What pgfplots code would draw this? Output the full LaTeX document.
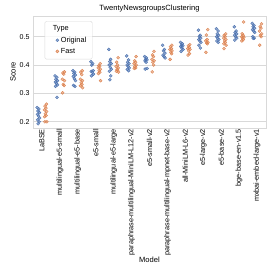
\documentclass[border=0pt]{standalone}
\usepackage{pgfplots}
\pgfplotsset{compat=1.18}
\usepackage{pgfplotstable}
\usepackage{fontspec}
\setmainfont{Liberation Sans}
\definecolor{sbblue}{HTML}{4C72B0}
\definecolor{sborange}{HTML}{DD8452}
\definecolor{gridgray}{HTML}{D9D9D9}

\pgfplotstableread{
x j y
0 -0.07 0.250
0 0.03 0.245
0 -0.02 0.238
0 0.06 0.232
0 -0.05 0.226
0 0.01 0.220
0 0.07 0.213
0 -0.04 0.207
0 0.04 0.200
0 -0.01 0.193
1 -0.07 0.362
1 0.03 0.357
1 -0.02 0.350
1 0.06 0.345
1 -0.05 0.340
1 0.01 0.335
1 0.07 0.330
1 -0.04 0.325
1 0.04 0.286
2 -0.07 0.380
2 0.03 0.375
2 -0.02 0.370
2 0.06 0.365
2 -0.05 0.360
2 0.01 0.352
2 0.07 0.345
2 -0.04 0.328
2 0.04 0.325
3 -0.07 0.412
3 0.03 0.405
3 -0.02 0.400
3 0.06 0.380
3 -0.05 0.378
3 0.01 0.375
3 0.07 0.368
3 -0.04 0.362
4 -0.07 0.455
4 0.03 0.420
4 -0.02 0.412
4 0.06 0.405
4 -0.05 0.400
4 0.01 0.392
4 0.07 0.385
4 -0.04 0.378
4 0.04 0.362
4 -0.01 0.348
5 -0.07 0.432
5 0.03 0.418
5 -0.02 0.410
5 0.06 0.405
5 -0.05 0.400
5 0.01 0.395
5 0.07 0.390
5 -0.04 0.385
5 0.04 0.380
6 -0.07 0.430
6 0.03 0.425
6 -0.02 0.420
6 0.06 0.418
6 -0.05 0.415
6 0.01 0.410
6 0.07 0.388
6 -0.04 0.386
7 -0.07 0.470
7 0.03 0.455
7 -0.02 0.450
7 0.06 0.442
7 -0.05 0.435
7 0.01 0.430
7 0.07 0.425
8 -0.07 0.480
8 0.03 0.475
8 -0.02 0.470
8 0.06 0.468
8 -0.05 0.465
8 0.01 0.460
8 0.07 0.455
8 -0.04 0.448
9 -0.07 0.523
9 0.03 0.505
9 -0.02 0.500
9 0.06 0.495
9 -0.05 0.490
9 0.01 0.485
9 0.07 0.480
9 -0.04 0.470
9 0.04 0.460
10 -0.07 0.528
10 0.03 0.520
10 -0.02 0.510
10 0.06 0.505
10 -0.05 0.500
10 0.01 0.495
10 0.07 0.490
10 -0.04 0.485
10 0.04 0.480
11 -0.07 0.535
11 0.03 0.520
11 -0.02 0.515
11 0.06 0.510
11 -0.05 0.505
11 0.01 0.500
11 0.07 0.495
11 -0.04 0.488
12 -0.07 0.547
12 0.03 0.540
12 -0.02 0.535
12 0.06 0.530
12 -0.05 0.525
12 0.01 0.520
12 0.07 0.515
12 -0.04 0.500
12 0.04 0.495
12 -0.01 0.494
}\original

\pgfplotstableread{
x j y
0 0.05 0.262
0 -0.03 0.255
0 0.02 0.248
0 -0.06 0.242
0 0.06 0.236
0 -0.01 0.228
0 0.03 0.222
0 -0.05 0.218
0 0.07 0.200
0 -0.04 0.200
1 0.05 0.376
1 -0.03 0.372
1 0.02 0.368
1 -0.06 0.350
1 0.06 0.345
1 -0.01 0.332
1 0.03 0.328
1 -0.05 0.302
2 0.05 0.380
2 -0.03 0.375
2 0.02 0.366
2 -0.06 0.350
2 0.06 0.345
2 -0.01 0.338
2 0.03 0.332
2 -0.05 0.327
2 0.07 0.320
3 0.05 0.405
3 -0.03 0.398
3 0.02 0.395
3 -0.06 0.390
3 0.06 0.385
3 -0.01 0.380
3 0.03 0.375
3 -0.05 0.370
3 0.07 0.345
4 0.05 0.426
4 -0.03 0.410
4 0.02 0.400
4 -0.06 0.395
4 0.06 0.390
4 -0.01 0.385
4 0.03 0.382
4 -0.05 0.378
4 0.07 0.375
5 0.05 0.430
5 -0.03 0.415
5 0.02 0.410
5 -0.06 0.405
5 0.06 0.400
5 -0.01 0.395
5 0.03 0.390
5 -0.05 0.388
6 0.05 0.448
6 -0.03 0.436
6 0.02 0.430
6 -0.06 0.420
6 0.06 0.415
6 -0.01 0.410
6 0.03 0.400
6 -0.05 0.376
7 0.05 0.470
7 -0.03 0.465
7 0.02 0.458
7 -0.06 0.455
7 0.06 0.450
7 -0.01 0.445
7 0.03 0.440
7 -0.05 0.420
8 0.05 0.472
8 -0.03 0.468
8 0.02 0.462
8 -0.06 0.458
8 0.06 0.455
8 -0.01 0.450
8 0.03 0.440
8 -0.05 0.435
9 0.05 0.525
9 -0.03 0.506
9 0.02 0.490
9 -0.06 0.485
9 0.06 0.480
9 -0.01 0.478
9 0.03 0.475
9 -0.05 0.445
10 0.05 0.510
10 -0.03 0.505
10 0.02 0.500
10 -0.06 0.495
10 0.06 0.490
10 -0.01 0.485
10 0.03 0.480
10 -0.05 0.475
10 0.07 0.470
10 -0.04 0.458
11 0.05 0.552
11 -0.03 0.510
11 0.02 0.505
11 -0.06 0.500
11 0.06 0.498
11 -0.01 0.495
11 0.03 0.490
11 -0.05 0.485
12 0.05 0.545
12 -0.03 0.535
12 0.02 0.530
12 -0.06 0.520
12 0.06 0.510
12 -0.01 0.505
12 0.03 0.500
12 -0.05 0.470
}\fast

\begin{document}
\begin{tikzpicture}
\useasboundingbox (-33bp,-146bp) rectangle (241bp,128bp);
\begin{axis}[
  at={(0,0)}, anchor=south west,
  scale only axis,
  width=233bp, height=112bp,
  xmin=-0.5, xmax=12.5,
  ymin=0.178, ymax=0.573,
  xtick={0,...,12},
  xticklabels={LaBSE,multilingual-e5-small,multilingual-e5-base,e5-small,multilingual-e5-large,paraphrase-multilingual-MiniLM-L12-v2,e5-small-v2,paraphrase-multilingual-mpnet-base-v2,all-MiniLM-L6-v2,e5-large-v2,e5-base-v2,bge-base-en-v1.5,mxbai-embed-large-v1},
  xticklabel style={rotate=90, anchor=east, font=\fontsize{7.3}{8.5}\selectfont, inner sep=1pt},
  ytick={0.2,0.3,0.4,0.5},
  yticklabel style={font=\fontsize{7.1}{8.5}\selectfont, /pgf/number format/fixed, /pgf/number format/precision=1, /pgf/number format/fixed zerofill},
  /pgf/number format/assume math mode=true,
  major tick length=0pt,
  axis line style={gridgray, line width=0.6pt},
  ymajorgrids, grid style={gridgray, line width=0.6pt},
  title={TwentyNewsgroupsClustering},
  title style={font=\fontsize{7.6}{9}\selectfont, yshift=-6bp},
  xlabel={Model}, ylabel={Score},
  xlabel style={font=\fontsize{7.6}{9}\selectfont, yshift=3bp},
  ylabel style={font=\fontsize{7.6}{9}\selectfont, yshift=-3bp},
  legend style={at={(0.05,0.955)}, anchor=north west, draw=gridgray, rounded corners=1.5pt,
    fill=white, fill opacity=0.8, text opacity=1, font=\fontsize{7.4}{9}\selectfont,
    row sep=0.5pt, inner xsep=4bp, inner ysep=2.5bp},
  legend cell align=left,
]
\addlegendimage{empty legend}
\addlegendentry{\hspace{-8bp}Type}
\addplot[only marks, mark=*, mark size=1.5bp, color=sbblue, mark options={draw=none, fill=sbblue, fill opacity=0.6}]
  table[x expr=\thisrow{x}-0.2+\thisrow{j}, y=y]{\original};
\addlegendentry{Original}
\addplot[only marks, mark=*, mark size=1.5bp, color=sborange, mark options={draw=none, fill=sborange, fill opacity=0.55}]
  table[x expr=\thisrow{x}+0.2+\thisrow{j}, y=y]{\fast};
\addlegendentry{Fast}
\end{axis}
\end{tikzpicture}
\end{document}
